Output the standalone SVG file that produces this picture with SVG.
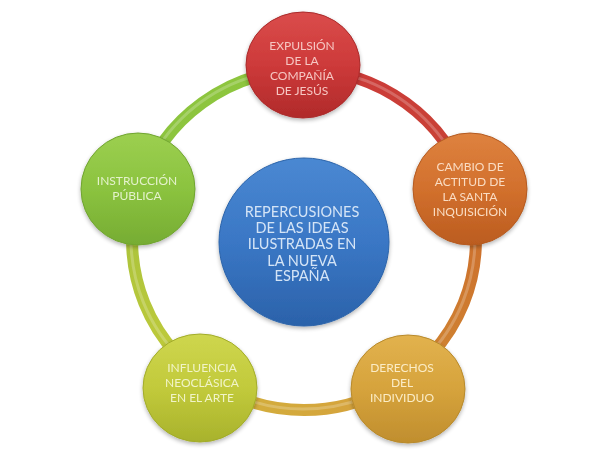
<svg xmlns="http://www.w3.org/2000/svg" width="606" height="450" viewBox="0 0 606 450">
<style>
.t{font-family:Lato,"Open Sans","Liberation Sans",sans-serif;font-size:12px;text-anchor:middle}
.tc{font-family:Lato,"Open Sans","Liberation Sans",sans-serif;font-size:14.5px;text-anchor:middle}
.edge{fill:none;stroke-width:12;stroke-linecap:butt}
.hl{fill:none;stroke:#ffffff;stroke-opacity:0.22;stroke-width:3}
.rim{stroke-width:1}
</style>
<defs>
<linearGradient id="gRed" x1="0" y1="0" x2="0" y2="1"><stop offset="0" stop-color="#da4c4b"/><stop offset="0.5" stop-color="#cd3a3a"/><stop offset="1" stop-color="#b02a2a"/></linearGradient>
<linearGradient id="gOra" x1="0" y1="0" x2="0" y2="1"><stop offset="0" stop-color="#de823f"/><stop offset="0.5" stop-color="#d2702d"/><stop offset="1" stop-color="#bb5c1f"/></linearGradient>
<linearGradient id="gGold" x1="0" y1="0" x2="0" y2="1"><stop offset="0" stop-color="#e2b24e"/><stop offset="0.5" stop-color="#d6a33c"/><stop offset="1" stop-color="#c08e2e"/></linearGradient>
<linearGradient id="gYel" x1="0" y1="0" x2="0" y2="1"><stop offset="0" stop-color="#ced64e"/><stop offset="0.5" stop-color="#c2ca3b"/><stop offset="1" stop-color="#a8b22c"/></linearGradient>
<linearGradient id="gGrn" x1="0" y1="0" x2="0" y2="1"><stop offset="0" stop-color="#9ccf50"/><stop offset="0.5" stop-color="#8bc33f"/><stop offset="1" stop-color="#76ac33"/></linearGradient>
<linearGradient id="gBlu" x1="0" y1="0" x2="0" y2="1"><stop offset="0" stop-color="#4a88d2"/><stop offset="0.5" stop-color="#3a77c5"/><stop offset="1" stop-color="#2b62aa"/></linearGradient>
<linearGradient id="aRed" gradientUnits="userSpaceOnUse" x1="304" y1="70" x2="468" y2="189"><stop offset="0" stop-color="#cc3838"/><stop offset="1" stop-color="#c84436"/></linearGradient>
<linearGradient id="aOra" gradientUnits="userSpaceOnUse" x1="468" y1="189" x2="387" y2="389"><stop offset="0" stop-color="#cc6a2a"/><stop offset="1" stop-color="#d08a34"/></linearGradient>
<linearGradient id="aGold" gradientUnits="userSpaceOnUse" x1="387" y1="389" x2="221" y2="389"><stop offset="0" stop-color="#d6a03c"/><stop offset="1" stop-color="#d2b03c"/></linearGradient>
<linearGradient id="aYel" gradientUnits="userSpaceOnUse" x1="221" y1="389" x2="140" y2="189"><stop offset="0" stop-color="#c6cc3a"/><stop offset="1" stop-color="#a6c23c"/></linearGradient>
<linearGradient id="aGrn" gradientUnits="userSpaceOnUse" x1="140" y1="189" x2="304" y2="70"><stop offset="0" stop-color="#8cc43e"/><stop offset="1" stop-color="#8ec63e"/></linearGradient>
<filter id="sh" x="-20%" y="-20%" width="140%" height="140%"><feGaussianBlur in="SourceAlpha" stdDeviation="2"/><feOffset dy="2"/><feComponentTransfer><feFuncA type="linear" slope="0.3"/></feComponentTransfer><feMerge><feMergeNode/><feMergeNode in="SourceGraphic"/></feMerge></filter>
</defs>
<rect width="606" height="450" fill="#ffffff"/>
<g id="connectors">
<path class="edge" stroke="url(#aRed)" d="M304,70 A172,170 0 0 1 468,189"/>
<path class="edge" stroke="url(#aOra)" d="M468,189 A172,170 0 0 1 387.4,388.7"/>
<path class="edge" stroke="url(#aGold)" d="M387.4,388.7 A172,170 0 0 1 220.6,388.7"/>
<path class="edge" stroke="url(#aYel)" d="M220.6,388.7 A172,170 0 0 1 140,189"/>
<path class="edge" stroke="url(#aGrn)" d="M140,189 A172,170 0 0 1 304,70"/>
<ellipse class="hl" cx="304" cy="240" rx="172" ry="170" transform="translate(-1,-1)"/>
</g>
<g id="center" filter="url(#sh)">
<ellipse cx="304" cy="242" rx="85" ry="84" fill="url(#gBlu)" stroke="#2c64aa" class="rim"/>
<g class="tc" fill="#d4e4f6">
<text x="302" y="217">REPERCUSIONES</text>
<text x="302" y="233">DE LAS IDEAS</text>
<text x="302" y="249">ILUSTRADAS EN</text>
<text x="302" y="265.5">LA NUEVA</text>
<text x="302" y="281">ESPAÑA</text>
</g>
</g>
<g id="node-top" filter="url(#sh)">
<ellipse cx="303" cy="65" rx="57" ry="53" fill="url(#gRed)" stroke="#aa2a2a" class="rim"/>
<g class="t" fill="#f6c6c2">
<text x="302" y="50">EXPULSIÓN</text>
<text x="302" y="65">DE LA</text>
<text x="302" y="80">COMPAÑÍA</text>
<text x="302" y="95">DE JESÚS</text>
</g>
</g>
<g id="node-right" filter="url(#sh)">
<ellipse cx="470" cy="189" rx="57" ry="56" fill="url(#gOra)" stroke="#b45a20" class="rim"/>
<g class="t" fill="#fadcc2">
<text x="470" y="171">CAMBIO DE</text>
<text x="470" y="186">ACTITUD DE</text>
<text x="470" y="201">LA SANTA</text>
<text x="470" y="216">INQUISICIÓN</text>
</g>
</g>
<g id="node-bottom-right" filter="url(#sh)">
<ellipse cx="408" cy="389" rx="57" ry="54" fill="url(#gGold)" stroke="#b88a2c" class="rim"/>
<g class="t" fill="#fbecc6">
<text x="402" y="371.5">DERECHOS</text>
<text x="402" y="386.5">DEL</text>
<text x="402" y="401.5">INDIVIDUO</text>
</g>
</g>
<g id="node-bottom-left" filter="url(#sh)">
<ellipse cx="200" cy="388" rx="57" ry="54" fill="url(#gYel)" stroke="#a2ac2a" class="rim"/>
<g class="t" fill="#f1f4c8">
<text x="202" y="371.5">INFLUENCIA</text>
<text x="202" y="386.5">NEOCLÁSICA</text>
<text x="202" y="401.5">EN EL ARTE</text>
</g>
</g>
<g id="node-left" filter="url(#sh)">
<ellipse cx="138" cy="189" rx="57" ry="56" fill="url(#gGrn)" stroke="#70a430" class="rim"/>
<g class="t" fill="#e4f2cc">
<text x="137" y="185">INSTRUCCIÓN</text>
<text x="137" y="199.5">PÚBLICA</text>
</g>
</g>
</svg>
